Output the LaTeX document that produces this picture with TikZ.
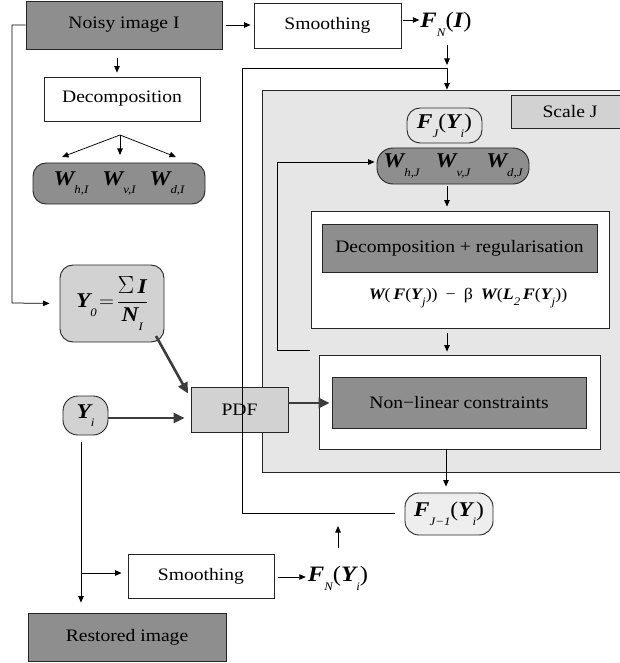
\documentclass[tikz,border=0pt]{standalone}
\usepackage{fontspec}
\setmainfont{Liberation Serif}[FakeStretch=1.12]
\usetikzlibrary{arrows.meta}
\definecolor{darkfill}{HTML}{8E8E8E}
\definecolor{midfill}{HTML}{D2D2D2}
\definecolor{panelfill}{HTML}{E6E6E6}
\definecolor{palefill}{HTML}{EEEEEE}
\definecolor{thickc}{HTML}{3C3C3C}
\newcommand{\bi}[1]{{\bfseries\itshape #1}}
\newcommand{\lsub}[1]{\raisebox{-0.9ex}{\fontsize{11.5}{11.5}\selectfont\itshape #1}}
\tikzset{
  box/.style={draw=black!85, line width=0.9pt, inner sep=0pt, align=center,
     font=\fontsize{17.5}{20}\selectfont},
  darkbox/.style={box, fill=darkfill},
  whitebox/.style={box, fill=white},
  midbox/.style={box, fill=midfill},
  roundbox/.style={box, rounded corners=13pt},
  conn/.style={line width=0.75pt, black},
  arr/.style={conn, -{Triangle[length=6.5pt,width=5.5pt]}},
  thickarr/.style={line width=2.6pt, thickc, -{Triangle[length=11pt,width=10pt]}},
  mathlbl/.style={inner sep=0pt, font=\fontsize{22}{24}\selectfont},
}
\begin{document}
\begin{tikzpicture}[x=1pt,y=-1pt]
\useasboundingbox (0,0) rectangle (619,663);
% panel
\node[box, fill=panelfill, minimum width=368pt, minimum height=382pt] (panel) at (446,281) {};
\node[midbox, minimum width=119pt, minimum height=33pt] (scalej) at (570.5,111.5) {};
\node[inner sep=0pt, font=\fontsize{17.5}{20}\selectfont] (scalejt) at (570,112) {Scale J};
% top row
\node[darkbox, minimum width=196pt, minimum height=48pt] (noisy) at (124,25) {Noisy image I};
\node[whitebox, minimum width=147pt, minimum height=45pt] (smooth1) at (327.5,25.5) {Smoothing};
\node[mathlbl] (fni) at (446,24) {\bi{F}\lsub{N}(\bi{I})};
\node[whitebox, minimum width=156pt, minimum height=44pt] (decomp) at (122,99) {Decomposition};
\node[darkbox, roundbox, minimum width=172pt, minimum height=41pt, font=\fontsize{21}{22}\selectfont] (wleft) at (119,183.5)
  {\bi{W}\lsub{h,I}\hspace{14pt}\bi{W}\lsub{v,I}\hspace{14pt}\bi{W}\lsub{d,I}};
% left column
\node[midbox, roundbox, minimum width=104pt, minimum height=77pt, font=\fontsize{21}{22}\selectfont] (y0) at (112,303.5)
  {$\mbox{\bi{Y}\lsub{0}}\!=\!\displaystyle\frac{\mbox{\fontsize{28}{28}\selectfont$\Sigma$}\,\mbox{\bi{I}}}{\mbox{\bi{N}\lsub{I}}}$};
\node[midbox, roundbox, minimum width=45pt, minimum height=39pt, rounded corners=15pt, font=\fontsize{21}{22}\selectfont] (yi) at (85.5,415.5) {\bi{Y}\lsub{i}};
\node[midbox, minimum width=97pt, minimum height=45pt] (pdf) at (239.5,409.5) {PDF};
% inside panel
\node[box, roundbox, fill=panelfill, minimum width=75pt, minimum height=35pt, font=\fontsize{21}{22}\selectfont] (fj) at (444.5,125.5) {\bi{F}\lsub{J}(\bi{Y}\lsub{i})};
\node[darkbox, roundbox, minimum width=152pt, minimum height=36pt, rounded corners=16pt, font=\fontsize{21}{22}\selectfont] (wj) at (453,166)
  {\bi{W}\lsub{h,J}\hspace{16pt}\bi{W}\lsub{v,J}\hspace{16pt}\bi{W}\lsub{d,J}};
\node[whitebox, minimum width=298pt, minimum height=117pt] (regbox) at (460,269.5) {};
\node[darkbox, minimum width=275pt, minimum height=48pt] (reginner) at (459.5,248) {Decomposition + regularisation};
\node[inner sep=0pt, font=\fontsize{16}{18}\selectfont] (formula) at (468,298)
  {\bi{W}(\,\bi{F}(\bi{Y}\lsub{j}))\enspace−\enspace β\enspace \bi{W}(\bi{L}\lsub{2}\,\bi{F}(\bi{Y}\lsub{j}))};
\node[whitebox, minimum width=281pt, minimum height=94pt] (nlouter) at (459.5,402) {};
\node[darkbox, minimum width=254pt, minimum height=51pt] (nlinner) at (459,402.5) {Non−linear constraints};
\node[box, roundbox, fill=palefill, minimum width=88pt, minimum height=42pt, rounded corners=14pt, font=\fontsize{21}{22}\selectfont] (fj1) at (449,514) {\bi{F}\lsub{J−1}(\bi{Y}\lsub{i})};
% bottom
\node[whitebox, minimum width=146pt, minimum height=44pt] (smooth2) at (201,576) {Smoothing};
\node[mathlbl] (fny) at (338,578) {\bi{F}\lsub{N}(\bi{Y}\lsub{i})};
\node[darkbox, minimum width=198pt, minimum height=48pt] (restored) at (127,637) {Restored image};
% coordinates
\coordinate (lt) at (12,25);
\coordinate (lb) at (12,303);
\coordinate (fork) at (120,135);
\coordinate (ft1) at (62,157);
\coordinate (ft2) at (120,155);
\coordinate (ft3) at (176,157);
\coordinate (jl) at (242,68);
\coordinate (jr) at (447,68);
\coordinate (fnb) at (447,45);
\coordinate (jb) at (242,513);
\coordinate (fbs) at (310,350);
\coordinate (fbc) at (277,350);
\coordinate (fbt) at (277,162);
\coordinate (ybr) at (81,573);
\coordinate (y0o) at (156,336);
\coordinate (upa) at (338,548);
% connectors
\draw[arr, shorten >=10pt] (noisy.west) -- (lt) -- (lb) -- (y0.west);
\draw[arr, shorten <=4pt, shorten >=3pt] (noisy.east) -- (smooth1.west |- noisy.east);
\draw[arr, shorten <=2pt, shorten >=1pt] (smooth1.east |- 0,20) -- (fni.west |- 0,20);
\draw[arr, shorten >=3pt] (fnb) -- (jr);
\draw[conn] (jl) -- (jr);
\draw[arr] (jr) -- (panel.north -| jr);
\draw[conn, shorten >=10pt] (jl) -- (jb) -- (fj1.west |- jb);
\draw[arr, shorten <=9pt, shorten >=4pt] (noisy.south -| 117,0) -- (decomp.north -| 117,0);
\draw[arr] (fork) -- (ft1);
\draw[arr] (fork) -- (ft2);
\draw[arr] (fork) -- (ft3);
\draw[thickarr, shorten >=5pt] (y0o) -- (pdf.west |- 0,398);
\draw[thickarr, shorten >=6pt] (yi.east |- 0,418) -- (pdf.west |- 0,418);
\draw[thickarr, shorten >=2pt] (pdf.east |- 0,403) -- (nlinner.west |- 0,403);
\draw[arr, shorten >=2pt] (fbs) -- (fbc) -- (fbt) -- (wj.west |- fbt);
\draw[arr, shorten <=2pt, shorten >=4pt] (wj.south -| 447,0) -- (regbox.north -| 447,0);
\draw[arr, shorten <=5pt, shorten >=3pt] (regbox.south -| 447,0) -- (nlouter.north -| 447,0);
\draw[arr, shorten >=6pt] (nlouter.south -| 446,0) -- (fj1.north -| 446,0);
\draw[arr, shorten <=7pt, shorten >=10pt] (yi.south -| 81,0) -- (restored.north -| 81,0);
\draw[arr, shorten >=6pt] (ybr) -- (smooth2.west |- ybr);
\draw[arr, shorten <=4pt, shorten >=2pt] (smooth2.east |- 0,577) -- (fny.west |- 0,577);
\draw[arr, shorten >=13pt] (upa) -- (jb -| upa);
\end{tikzpicture}
\end{document}
